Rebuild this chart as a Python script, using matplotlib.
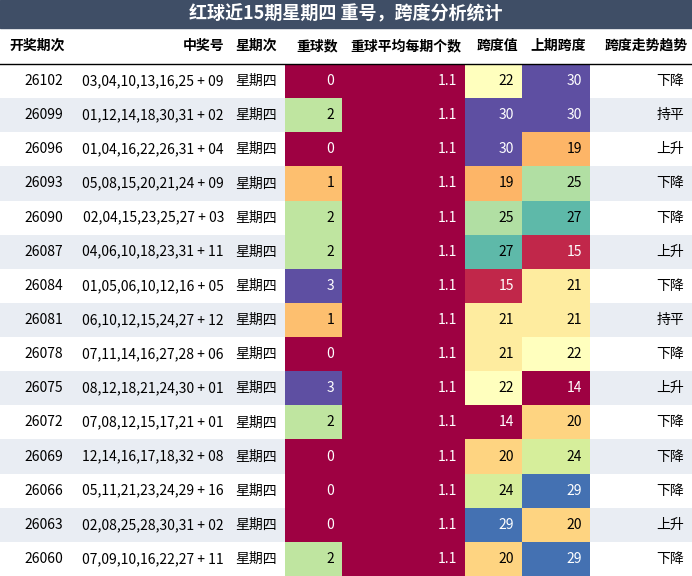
import matplotlib.pyplot as plt
import matplotlib.patches as patches
from matplotlib import cm, colors

plt.rcParams['font.family'] = ['Noto Sans CJK SC', 'DejaVu Sans']

title = '红球近15期星期四 重号，跨度分析统计'
headers = ['开奖期次', '中奖号', '星期次', '重球数', '重球平均每期个数', '跨度值', '上期跨度', '跨度走势趋势']
periods = ['26102', '26099', '26096', '26093', '26090', '26087', '26084', '26081',
           '26078', '26075', '26072', '26069', '26066', '26063', '26060']
numbers = ['03,04,10,13,16,25 + 09', '01,12,14,18,30,31 + 02', '01,04,16,22,26,31 + 04',
           '05,08,15,20,21,24 + 09', '02,04,15,23,25,27 + 03', '04,06,10,18,23,31 + 11',
           '01,05,06,10,12,16 + 05', '06,10,12,15,24,27 + 12', '07,11,14,16,27,28 + 06',
           '08,12,18,21,24,30 + 01', '07,08,12,15,17,21 + 01', '12,14,16,17,18,32 + 08',
           '05,11,21,23,24,29 + 16', '02,08,25,28,30,31 + 02', '07,09,10,16,22,27 + 11']
weekday = ['星期四'] * 15
repeat = [0, 2, 0, 1, 2, 2, 3, 1, 0, 3, 2, 0, 0, 0, 2]
avg_repeat = [1.1] * 15
span = [22, 30, 30, 19, 25, 27, 15, 21, 21, 22, 14, 20, 24, 29, 20]
prev_span = [30, 30, 19, 25, 27, 15, 21, 21, 22, 14, 20, 24, 29, 20, 29]
trend = ['下降', '持平', '上升', '下降', '下降', '上升', '下降', '持平',
         '下降', '上升', '下降', '下降', '下降', '上升', '下降']

W, H = 692, 576
col_x = [0, 75, 228, 285, 342, 465, 522, 590, 692]
title_h, head_h = 28, 36
row_h = (H - title_h - head_h) / len(periods)
cmap = cm.get_cmap('Spectral')

fig = plt.figure(figsize=(W / 100, H / 100), dpi=100)
ax = fig.add_axes([0, 0, 1, 1])
ax.set_xlim(0, W)
ax.set_ylim(H, 0)
ax.axis('off')

ax.add_patch(patches.Rectangle((0, 0), W, title_h, color='#3f4e66'))
ax.text(W / 2, title_h / 2, title, color='white', ha='center', va='center', fontsize=13, weight='bold')

right_align = [True, True, False, True, True, True, True, True]
for i, h in enumerate(headers):
    x0, x1 = col_x[i], col_x[i + 1]
    if i in (0, 2):
        ax.text((x0 + x1) / 2, title_h + head_h / 2, h, ha='center', va='center', fontsize=10, weight='bold')
    else:
        ax.text(x1 - 4, title_h + head_h / 2, h, ha='right', va='center', fontsize=10, weight='bold')
ax.plot([0, W], [title_h + head_h, title_h + head_h], color='black', lw=1)

norm_rep = colors.Normalize(min(repeat), max(repeat))
norm_span = colors.Normalize(min(span + prev_span), max(span + prev_span))


def text_col(c):
    r, g, b = c[:3]
    return 'white' if 0.299 * r + 0.587 * g + 0.114 * b < 0.55 else 'black'


for r in range(len(periods)):
    y0 = title_h + head_h + r * row_h
    yc = y0 + row_h / 2
    if r % 2 == 1:
        ax.add_patch(patches.Rectangle((0, y0), W, row_h, color='#e9edf3', lw=0))
    ax.text(col_x[1] - 12, yc, periods[r], ha='right', va='center', fontsize=10)
    ax.text(col_x[2] - 4, yc, numbers[r], ha='right', va='center', fontsize=10)
    ax.text((col_x[2] + col_x[3]) / 2, yc, weekday[r], ha='center', va='center', fontsize=10)
    cells = [(3, repeat[r], cmap(norm_rep(repeat[r])), str(repeat[r])),
             (4, avg_repeat[r], cmap(0.0), f'{avg_repeat[r]:.1f}'),
             (5, span[r], cmap(norm_span(span[r])), str(span[r])),
             (6, prev_span[r], cmap(norm_span(prev_span[r])), str(prev_span[r]))]
    for ci, v, c, s in cells:
        ax.add_patch(patches.Rectangle((col_x[ci], y0), col_x[ci + 1] - col_x[ci], row_h, color=c, lw=0))
        ax.text(col_x[ci + 1] - 8, yc, s, ha='right', va='center', fontsize=10, color=text_col(c))
    ax.text(col_x[8] - 8, yc, trend[r], ha='right', va='center', fontsize=10)

fig.savefig('out.png', dpi=100)
